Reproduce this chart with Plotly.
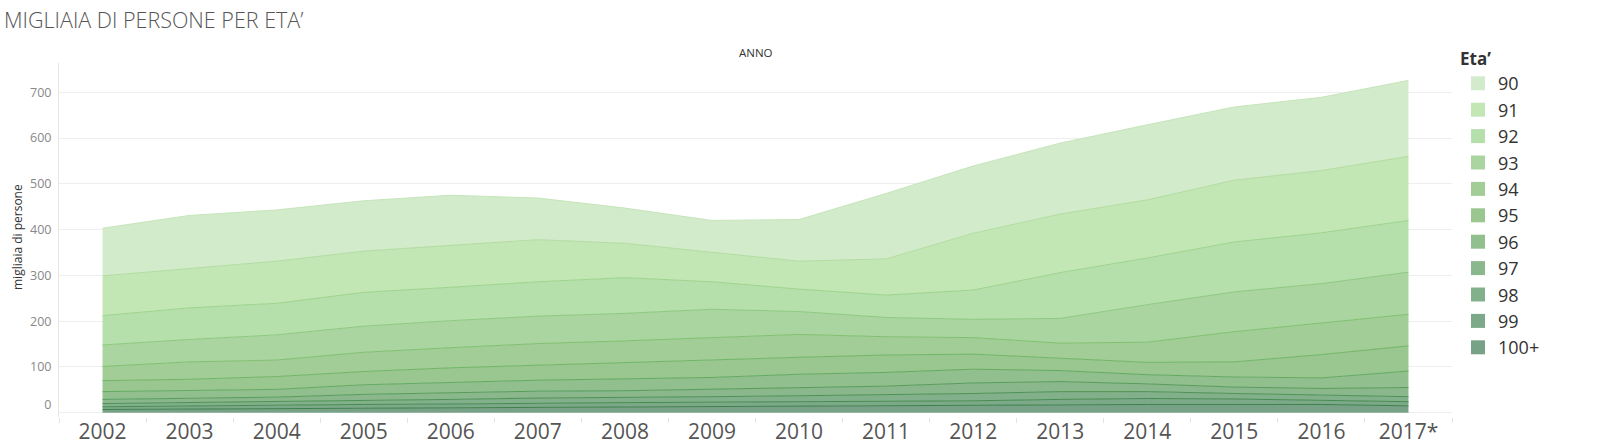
import plotly.graph_objects as go

# ---------------- data (migliaia di persone) ----------------
anni = ["2002", "2003", "2004", "2005", "2006", "2007", "2008", "2009",
        "2010", "2011", "2012", "2013", "2014", "2015", "2016", "2017*"]
eta_labels = ["90", "91", "92", "93", "94", "95", "96", "97", "98", "99", "100+"]

eta_90 = [104, 116, 112, 110, 110, 91, 77, 70, 91, 143, 147, 155, 164, 160, 160, 166]
eta_91 = [87, 86, 92, 90, 91, 92, 75, 64, 61, 79, 124, 128, 127, 135, 136, 140]
eta_92 = [64, 69, 69, 74, 73, 75, 78, 60, 49, 49, 64, 100, 102, 109, 111, 113]
eta_93 = [47, 49, 55, 57, 59, 60, 60, 62, 50, 42, 40, 54, 82, 87, 86, 92]
eta_94 = [31, 38, 36, 42, 44, 47, 47, 49, 50, 40, 36, 33, 44, 66, 69, 69]
eta_95 = [24, 25, 28, 29, 32, 33, 36, 38, 37, 38, 33, 27, 27, 33, 51, 55]
eta_96 = [17, 17, 17, 21, 22, 24, 26, 26, 29, 30, 30, 24, 20, 22, 23, 36]
eta_97 = [9, 9, 10, 14, 15, 15, 15, 16, 18, 19, 23, 22, 17, 14, 15, 20]
eta_98 = [7, 7, 8, 8, 10, 11, 11, 12, 13, 15, 16, 17, 15, 12, 11, 11]
eta_99 = [6, 7, 7, 8, 8, 9, 9, 10, 9, 9, 10, 11, 13, 12, 9, 9]
eta_100 = [7, 8, 9, 10, 11, 12, 13, 13, 15, 15, 16, 18, 18, 18, 18, 15]

serie = [eta_90, eta_91, eta_92, eta_93, eta_94, eta_95,
         eta_96, eta_97, eta_98, eta_99, eta_100]

y_ticks = [0, 100, 200, 300, 400, 500, 600, 700]
y_ticktext = ["0<br>&nbsp;", "100", "200", "300", "400", "500", "600", "700"]

# ---------------- styles ----------------
fill_colors = ["#d2ebca", "#c3e6b5", "#b5dfab", "#abd5a0", "#a2cd97", "#9ac690",
               "#92bf8e", "#8ab78c", "#82b08a", "#7caa89", "#77a287"]
line_colors = ["#c6e5ba", "#b2dca1", "#9dd48c", "#8dc97f", "#7fc06f", "#70b566",
               "#62aa60", "#569c5a", "#4d9155", "#468a50", "#3f804a"]

FONT = "Open Sans"

fig = go.Figure()

# stacked areas: bottom layer (100+) first
for i in reversed(range(len(eta_labels))):
    fig.add_trace(go.Scatter(
        x=anni, y=serie[i], name=eta_labels[i],
        stackgroup="one", mode="lines",
        line=dict(color=line_colors[i], width=1),
        fillcolor=fill_colors[i], showlegend=False,
        hovertemplate="Eta' " + eta_labels[i] + "<br>%{x}: %{y}<extra></extra>",
    ))

# legend entries (square swatches), top to bottom 90 ... 100+
for i, lab in enumerate(eta_labels):
    fig.add_trace(go.Scatter(
        x=[None], y=[None], mode="markers", name=lab,
        marker=dict(symbol="square", size=14, color=fill_colors[i]),
        hoverinfo="skip",
    ))

W, H = 1602, 446
L, R, T, B = 59, 150, 63, 29
ph = H - T - B
pw = W - L - R

fig.update_layout(
    width=W, height=H,
    margin=dict(l=L, r=R, t=T, b=B, autoexpand=False),
    paper_bgcolor="white", plot_bgcolor="white",
    font=dict(family=FONT, color="#555555"),
    title=dict(text="MIGLIAIA DI PERSONE PER ETA’", x=0, xanchor="left",
               xref="container", y=1 - 20 / H, yanchor="middle", yref="container",
               pad=dict(l=4, t=0, b=0, r=0),
               font=dict(size=21.5, color="#555555", family=FONT, weight=300)),
    showlegend=True,
    legend=dict(
        x=1.0 + (1458 - (W - R)) / pw, xanchor="left",
        y=1 + (T - 43) / ph, yanchor="top",
        traceorder="normal",
        maxheight=1,
        title=dict(text="<b>Eta’</b>", font=dict(size=17, color="#333333")),
        font=dict(size=18, color="#333333", family=FONT),
        tracegroupgap=0,
        bgcolor="rgba(0,0,0,0)", borderwidth=0,
    ),
    xaxis=dict(
        type="category", categoryorder="array", categoryarray=anni,
        range=[-0.5, len(anni) - 0.5],
        showgrid=False, zeroline=False, showline=False,
        ticks="outside", tickson="boundaries", ticklen=5, tickcolor="#e3e3e3",
        tickfont=dict(size=21, color="#555555", family=FONT),
        automargin=False,
        fixedrange=True,
    ),
    yaxis=dict(
        range=[-9.4, 764],
        tickvals=y_ticks, ticktext=y_ticktext,
        showgrid=True, gridcolor="#eeeeee", gridwidth=1,
        zeroline=False, showline=True, linecolor="#e6e6e6", linewidth=1,
        ticks="", tickfont=dict(size=12.5, color="#888888", family=FONT),
        ticklabelstandoff=4,
        automargin=False,
        fixedrange=True,
    ),
    annotations=[
        dict(text="ANNO", xref="paper", yref="paper", x=0.5, y=1 + (T - 53) / ph,
             xanchor="center", yanchor="middle", showarrow=False,
             font=dict(size=11.5, color="#333333", family=FONT, weight=500)),
        dict(text="migliaia di persone", xref="paper", yref="paper",
             x=(17 - L) / pw, y=(H - B - 237) / ph, textangle=-90,
             xanchor="center", yanchor="middle", showarrow=False,
             font=dict(size=12, color="#333333", family=FONT)),
    ],
)

fig.write_html(
    "out.html",
    config={"displayModeBar": False},
    post_script="document.body.style.margin='0';document.body.style.overflow='hidden';",
)
